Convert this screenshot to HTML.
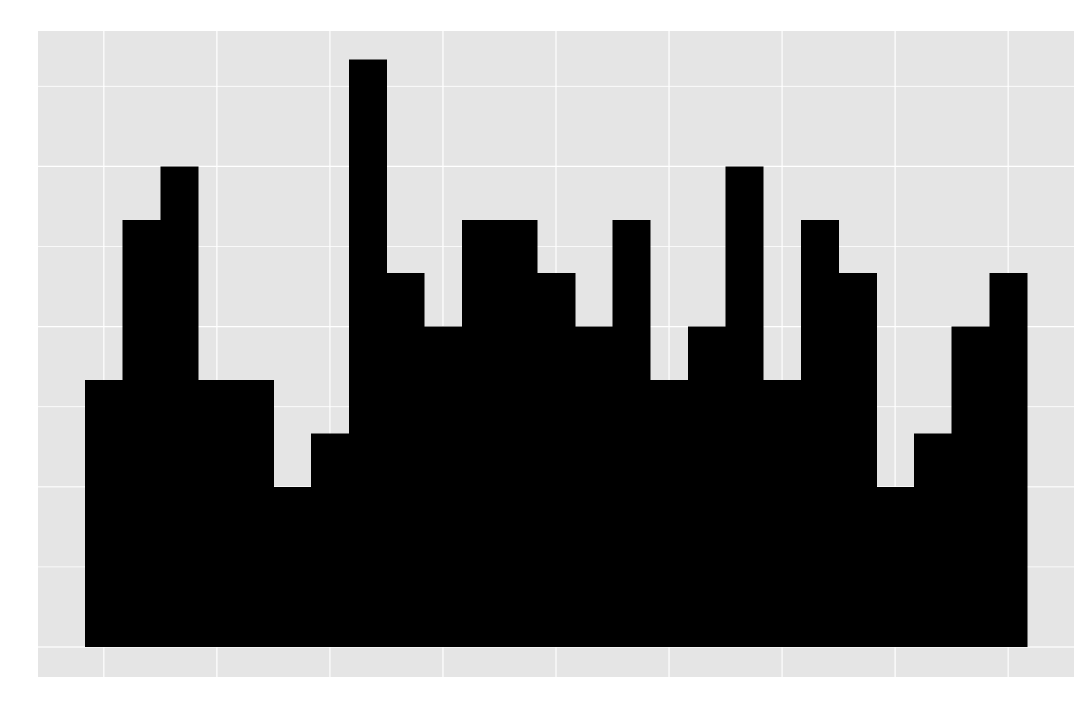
<!DOCTYPE html>
<html><head><meta charset="utf-8"><style>
html,body{margin:0;padding:0;background:#fff;width:1080px;height:720px;overflow:hidden}
svg{display:block}
</style></head><body>
<svg id="chart" width="1080" height="720" xmlns="http://www.w3.org/2000/svg">
<rect x="38" y="31" width="1036" height="646" fill="#e5e5e5"/>
<g id="grid"></g>
<g id="bars" shape-rendering="crispEdges"></g>
</svg>
<script>
const counts = [5,8,9,5,5,3,4,11,7,6,8,8,7,6,8,5,6,9,5,8,7,3,4,6,7];
const yMajorTicks = [0,3,6,9,12];
const yMinorTicks = [1.5,4.5,7.5,10.5];
const xMajorTicks = [0.5,3.5,6.5,9.5,12.5,15.5,18.5,21.5,24.5];

const panel = {x0:38, x1:1074, y0:31, y1:677};
const binW = 37.68;
function xs(v){ return 85 + v*binW; }
function ys(v){ return 647 - v*53.4; }
const NS = 'http://www.w3.org/2000/svg';
const grid = document.getElementById('grid');
function line(x1,y1,x2,y2,w,name){
  const l = document.createElementNS(NS,'line');
  l.setAttribute('x1',x1);l.setAttribute('y1',y1);l.setAttribute('x2',x2);l.setAttribute('y2',y2);
  l.setAttribute('stroke','#fff');l.setAttribute('stroke-width',w);
  
  
  grid.appendChild(l);
}
yMinorTicks.forEach(v=>line(panel.x0,ys(v),panel.x1,ys(v),0.8,'y-minor-gridline'));
yMajorTicks.forEach(v=>line(panel.x0,ys(v),panel.x1,ys(v),1.2,'y-major-gridline'));
xMajorTicks.forEach(v=>line(xs(v),panel.y0,xs(v),panel.y1,1.2,'x-major-gridline'));
const bars = document.getElementById('bars');
counts.forEach((c,i)=>{
  const r = document.createElementNS(NS,'rect');
  r.setAttribute('x',xs(i));r.setAttribute('width',binW+0.5);
  r.setAttribute('y',ys(c));r.setAttribute('height',ys(0)-ys(c));
  r.setAttribute('fill','#000');
  
  
  bars.appendChild(r);
});
</script>
</body></html>
